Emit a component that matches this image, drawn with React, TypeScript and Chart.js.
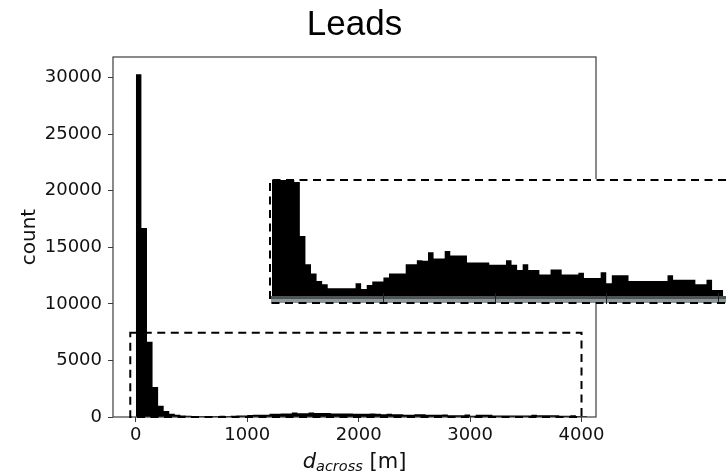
import React, { useEffect, useRef } from "react";
import { Chart, registerables } from "chart.js";

Chart.register(...registerables);

// ---- data ----
const BIN_WIDTH = 50; // metres per histogram bin, bins start at 0
const counts = [
  30300, 16700, 6660, 2650, 1000, 530, 285, 205, 140, 110,
  75, 75, 75, 75, 75, 120, 70, 105, 135, 135,
  170, 205, 205, 205, 285, 285, 320, 315, 390, 335,
  335, 400, 360, 360, 360, 300, 300, 300, 300, 280,
  280, 280, 320, 280, 235, 285, 235, 235, 195, 195,
  240, 240, 195, 195, 195, 210, 165, 165, 165, 215,
  120, 190, 190, 190, 140, 140, 140, 140, 140, 140,
  140, 190, 150, 150, 150, 150, 110, 110, 150, 60,
  60,
];
const xTicks = [0, 1000, 2000, 3000, 4000];
const yTicks = [0, 5000, 10000, 15000, 20000, 25000, 30000];
const insetTicks = [1000, 2000, 3000, 4000];
const zoomBoxX = [-50, 4000];
const zoomBoxY = [0, 7450];
const TITLE = "Leads";
const Y_LABEL = "count";
const X_LABEL_VAR = "d";
const X_LABEL_SUB = "across";
const X_LABEL_UNIT = " [m]";

const FAMILY = "'DejaVu Sans', sans-serif";

// histogram outline: each bin's count held from its left edge to the next edge
function histPoints() {
  const pts = counts.map((c, i) => ({ x: i * BIN_WIDTH, y: c }));
  pts.push({ x: counts.length * BIN_WIDTH, y: 0 });
  return pts;
}

function histDataset() {
  return {
    data: histPoints(),
    stepped: "before",
    fill: "origin",
    backgroundColor: "#000",
    borderColor: "rgba(0,0,0,0)",
    borderWidth: 0,
    pointRadius: 0,
    pointHoverRadius: 0,
    tension: 0,
    clip: 0,
  } as any;
}

const mainDecor = {
  id: "mainDecor",
  afterDraw(chart: any) {
    const { ctx, chartArea: a, scales } = chart;
    const x = scales.x;
    const y = scales.y;
    ctx.save();
    // axes box
    ctx.strokeStyle = "#3c3c3c";
    ctx.lineWidth = 1.2;
    ctx.strokeRect(a.left, a.top, a.right - a.left, a.bottom - a.top);
    // dashed zoom rectangle
    const x0 = x.getPixelForValue(zoomBoxX[0]);
    const x1 = x.getPixelForValue(zoomBoxX[1]);
    const y0 = y.getPixelForValue(zoomBoxY[0]);
    const y1 = y.getPixelForValue(zoomBoxY[1]);
    ctx.setLineDash([8, 5.5]);
    ctx.lineWidth = 2;
    ctx.strokeStyle = "#000";
    ctx.strokeRect(x0, y1, x1 - x0, y0 - y1);
    ctx.setLineDash([]);
    // title
    ctx.fillStyle = "#000";
    ctx.font = "35px 'Liberation Sans', Arial, sans-serif";
    ctx.textAlign = "center";
    ctx.textBaseline = "alphabetic";
    ctx.fillText(TITLE, (a.left + a.right) / 2, 35);
    // y label
    ctx.save();
    ctx.translate(35, (a.top + a.bottom) / 2);
    ctx.rotate(-Math.PI / 2);
    ctx.font = "20px " + FAMILY;
    ctx.fillStyle = "#111";
    ctx.fillText(Y_LABEL, 0, 0);
    ctx.restore();
    // x label with italic subscript
    const fMain = "italic 21px " + FAMILY;
    const fSub = "italic 14.5px " + FAMILY;
    const fReg = "21px " + FAMILY;
    ctx.font = fMain;
    const wD = ctx.measureText(X_LABEL_VAR).width;
    ctx.font = fSub;
    const wS = ctx.measureText(X_LABEL_SUB).width;
    ctx.font = fReg;
    const wR = ctx.measureText(X_LABEL_UNIT).width;
    let sx = (a.left + a.right) / 2 - (wD + wS + wR) / 2;
    ctx.textAlign = "left";
    ctx.fillStyle = "#111";
    ctx.font = fMain;
    ctx.fillText(X_LABEL_VAR, sx, 468);
    sx += wD;
    ctx.font = fSub;
    ctx.fillText(X_LABEL_SUB, sx, 471);
    sx += wS;
    ctx.font = fReg;
    ctx.fillText(X_LABEL_UNIT, sx, 468);
    ctx.restore();
  },
};

const insetDecor = {
  id: "insetDecor",
  beforeDraw(chart: any) {
    const { ctx } = chart;
    ctx.save();
    ctx.fillStyle = "#fff";
    ctx.fillRect(0, 0, chart.width, chart.height);
    ctx.restore();
  },
  afterDraw(chart: any) {
    const { ctx, chartArea: a, scales } = chart;
    const x = scales.x;
    ctx.save();
    // stretched axis line band
    ctx.fillStyle = "#4c5454";
    ctx.fillRect(a.left, a.bottom - 1, chart.width - a.left, 3);
    ctx.fillStyle = "#8f9898";
    ctx.fillRect(a.left, a.bottom + 2, chart.width - a.left, 4);
    // stretched tick marks
    ctx.strokeStyle = "#1e2424";
    ctx.lineWidth = 1;
    insetTicks.forEach((v) => {
      const px = Math.round(x.getPixelForValue(v)) + 0.5;
      ctx.beginPath();
      ctx.moveTo(px, a.bottom - 4);
      ctx.lineTo(px, a.bottom + 7);
      ctx.stroke();
    });
    // dashed frame
    ctx.setLineDash([8, 5.5]);
    ctx.lineWidth = 2;
    ctx.strokeStyle = "#000";
    ctx.beginPath();
    ctx.moveTo(chart.width, 1);
    ctx.lineTo(1, 1);
    ctx.lineTo(1, 124);
    ctx.lineTo(chart.width, 124);
    ctx.stroke();
    ctx.restore();
  },
};

export default function App() {
  const mainRef = useRef<HTMLCanvasElement | null>(null);
  const insetRef = useRef<HTMLCanvasElement | null>(null);

  useEffect(() => {
    if (!mainRef.current || !insetRef.current) return;
    const tickFont = { family: FAMILY, size: 18 };

    const main = new Chart(mainRef.current, {
      type: "line",
      data: { datasets: [histDataset()] },
      options: {
        animation: false,
        responsive: false,
        devicePixelRatio: 1,
        layout: { padding: { left: 0, top: 57, right: 130, bottom: 0 } },
        plugins: {
          legend: { display: false },
          tooltip: { enabled: false },
          title: { display: false },
        },
        scales: {
          x: {
            type: "linear",
            min: -205,
            max: 4130,
            offset: false,
            afterFit: (s: any) => {
              s.height = 57;
            },
            afterBuildTicks: (s: any) => {
              s.ticks = xTicks.map((v) => ({ value: v }));
            },
            grid: {
              display: true,
              drawOnChartArea: false,
              drawTicks: true,
              tickLength: 5,
              color: "#3c3c3c",
              lineWidth: 1,
              offset: false,
            },
            border: { display: false },
            ticks: {
              font: tickFont,
              color: "#111",
              padding: 3,
              maxRotation: 0,
              autoSkip: false,
              callback: (v: any) => String(v),
            },
          },
          y: {
            type: "linear",
            min: 0,
            max: 31830,
            afterFit: (s: any) => {
              s.width = 113;
            },
            afterBuildTicks: (s: any) => {
              s.ticks = yTicks.map((v) => ({ value: v }));
            },
            grid: {
              display: true,
              drawOnChartArea: false,
              drawTicks: true,
              tickLength: 5,
              color: "#3c3c3c",
              lineWidth: 1,
            },
            border: { display: false },
            ticks: {
              font: tickFont,
              color: "#111",
              padding: 6,
              autoSkip: false,
              callback: (v: any) => String(v),
            },
          },
        },
      } as any,
      plugins: [mainDecor],
    });

    const inset = new Chart(insetRef.current, {
      type: "line",
      data: { datasets: [histDataset()] },
      options: {
        animation: false,
        responsive: false,
        devicePixelRatio: 1,
        layout: { padding: { left: 2, top: 1, right: 0, bottom: 7 } },
        plugins: {
          legend: { display: false },
          tooltip: { enabled: false },
          title: { display: false },
        },
        scales: {
          x: { type: "linear", display: false, min: -9, max: 4075, offset: false },
          y: { type: "linear", display: false, min: 0, max: 1017 },
        },
      } as any,
      plugins: [insetDecor],
    });

    return () => {
      main.destroy();
      inset.destroy();
    };
  }, []);

  return (
    <div style={{ position: "absolute", left: 0, top: 0, width: 726, height: 474, background: "#fff" }}>
      <canvas
        ref={mainRef}
        width={726}
        height={474}
        style={{ position: "absolute", left: 0, top: 0, width: 726, height: 474, display: "block" }}
      />
      <canvas
        ref={insetRef}
        width={457}
        height={125}
        style={{ position: "absolute", left: 269, top: 179, width: 457, height: 125, display: "block" }}
      />
    </div>
  );
}
